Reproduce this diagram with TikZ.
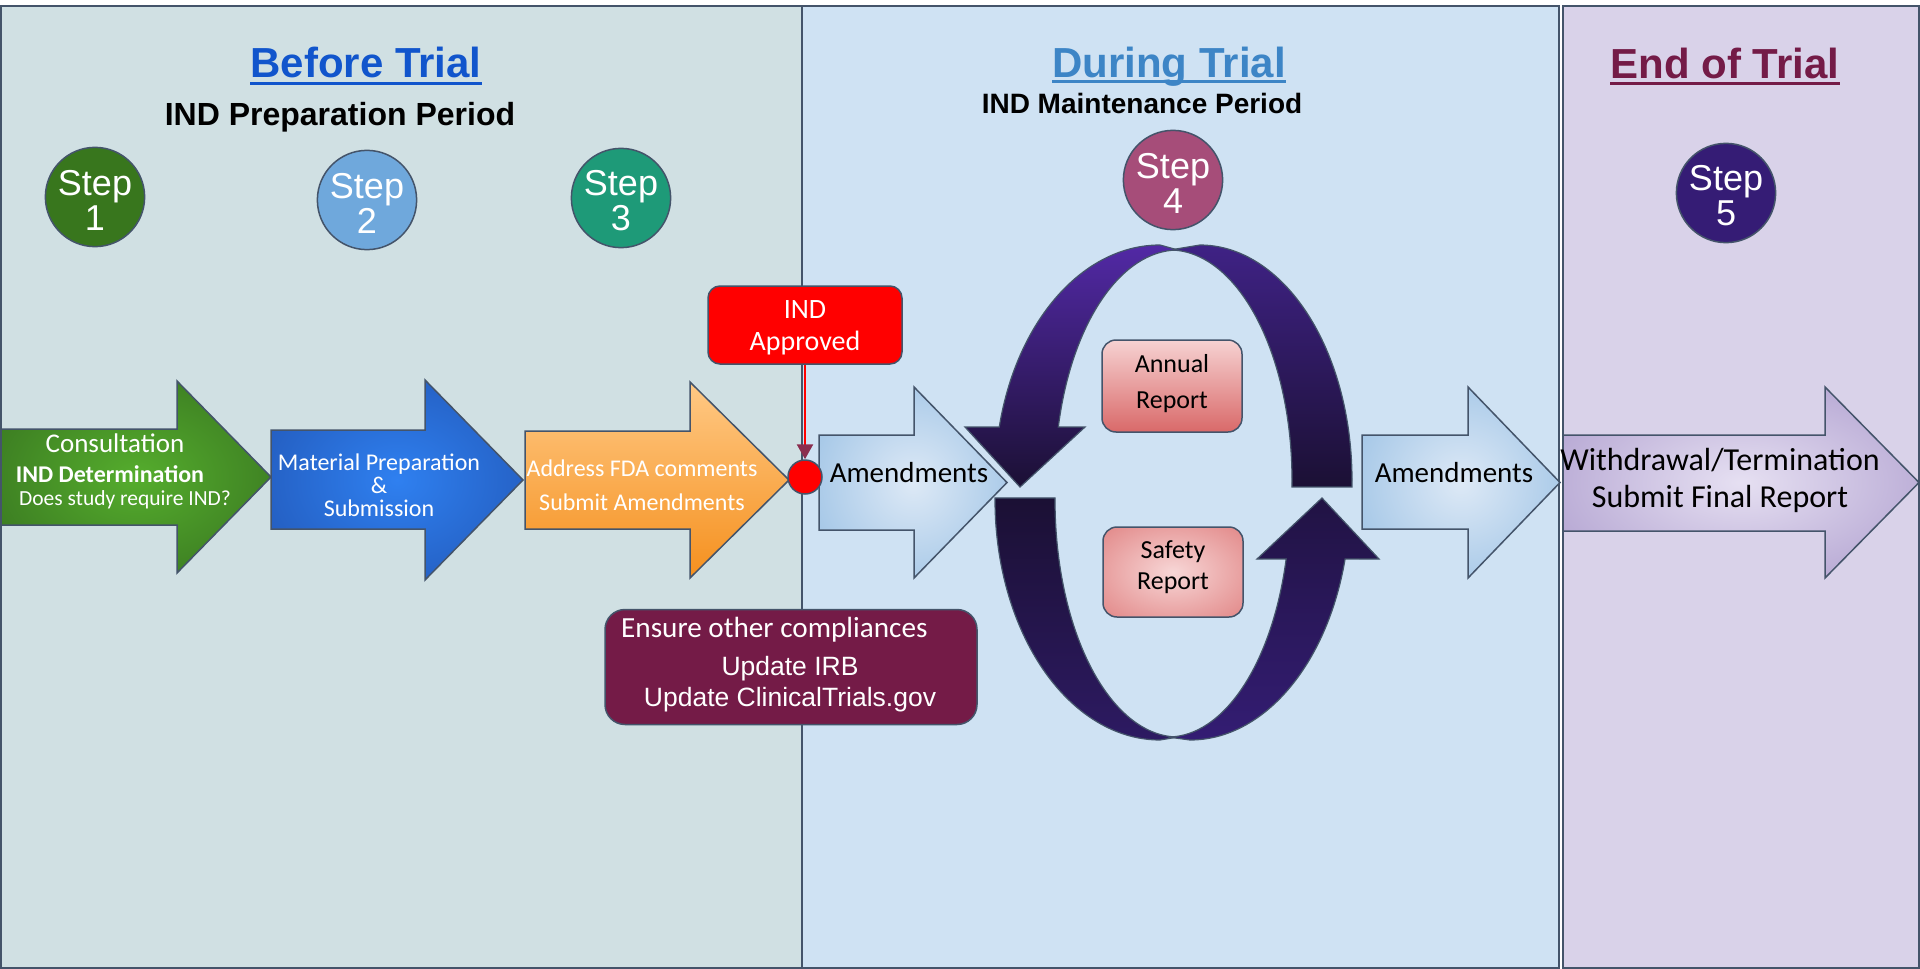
\documentclass[tikz,border=0pt]{standalone}
\usepackage{fontspec}
\setmainfont{Carlito}
\newfontfamily\arialfont{Liberation Sans}
\usetikzlibrary{shapes,arrows.meta,positioning,calc}

% colours
\definecolor{edge}{HTML}{44546A}
\definecolor{beforebg}{HTML}{D0E0E3}
\definecolor{duringbg}{HTML}{CFE2F3}
\definecolor{endbg}{HTML}{D9D2E9}
\definecolor{beforeblue}{HTML}{1155CC}
\definecolor{duringblue}{HTML}{3D85C6}
\definecolor{endmaroon}{HTML}{741B47}
\definecolor{stepone}{HTML}{38761D}
\definecolor{steptwo}{HTML}{6FA8DC}
\definecolor{stepthree}{HTML}{1E9A78}
\definecolor{stepfour}{HTML}{A64D79}
\definecolor{stepfive}{HTML}{351C75}
\definecolor{tipred}{HTML}{8A2D4F}
\definecolor{greenin}{HTML}{55AD2D}
\definecolor{greenout}{HTML}{2A5A1A}
\definecolor{bluein}{HTML}{2F80F0}
\definecolor{blueout}{HTML}{1C459E}
\definecolor{orangetop}{HTML}{FFC985}
\definecolor{orangebot}{HTML}{F5901E}
\definecolor{skyin}{HTML}{DDE9F6}
\definecolor{skyout}{HTML}{7BAEDC}
\definecolor{lilacin}{HTML}{E6E0F2}
\definecolor{lilacout}{HTML}{9580BE}
\definecolor{annualtop}{HTML}{F6D2D2}
\definecolor{annualbot}{HTML}{D96969}
\definecolor{safetyin}{HTML}{F7D6D6}
\definecolor{safetyout}{HTML}{D96868}
\definecolor{violet}{HTML}{5229A5}
\definecolor{indigo}{HTML}{3F2285}
\definecolor{midnight}{HTML}{1B1034}
\definecolor{plum}{HTML}{2D1A62}
\definecolor{grape}{HTML}{43239C}

% glow shadings for the block arrows
\pgfdeclareradialshading{greenglow}{\pgfpoint{0bp}{0bp}}{color(0bp)=(greenin); color(50bp)=(greenout)}
\pgfdeclareradialshading{blueglow}{\pgfpoint{0bp}{0bp}}{color(0bp)=(bluein); color(50bp)=(blueout)}
\pgfdeclareradialshading{skyglow}{\pgfpoint{0bp}{0bp}}{color(0bp)=(skyin); color(50bp)=(skyout)}
\pgfdeclareradialshading{lilacglow}{\pgfpoint{0bp}{0bp}}{color(0bp)=(lilacin); color(50bp)=(lilacout)}
\pgfdeclareradialshading{safetyglow}{\pgfpoint{0bp}{0bp}}{color(0bp)=(safetyin); color(50bp)=(safetyout)}

\tikzset{
  panel/.style={draw=edge, line width=1.5},
  heading/.style={anchor=base, inner sep=0, font=\arialfont\bfseries\fontsize{42}{48}\selectfont},
  subheading/.style={anchor=base, inner sep=0, font=\arialfont\bfseries\fontsize{32}{36}\selectfont},
  stepcircle/.style={circle, draw=edge, line width=1.5, minimum size=99, inner sep=0,
    text=white, align=center, font=\arialfont\fontsize{36}{35}\selectfont},
  arrowbody/.style={draw=edge, line width=1.5},
  arrowtext/.style={inner sep=0, text=white, align=center},
  reportbox/.style={rectangle, rounded corners=14, draw=edge, line width=1.5,
    minimum width=140, align=center, inner sep=0},
  cyclepart/.style={draw=edge, line width=1.2}
}

% step label, with a strut so the two lines sit a little lower
\newcommand{\stepno}[1]{\rule{0pt}{31pt}Step\\#1}

% block arrow: style, left x, head x, tip x, body top, body bottom, head top, head bottom
\newcommand{\blockarrow}[8]{%
  \path[arrowbody, #1] (#2,#5) -- (#3,#5) -- (#3,#7) -- (#4,{(#7+#8)/2})
    -- (#3,#8) -- (#3,#6) -- (#2,#6) -- cycle;}

\begin{document}
\begin{tikzpicture}[x=1pt,y=-1pt]
  \useasboundingbox (0,0) rectangle (1920,969);
  \fill[white] (0,0) rectangle (1920,969);

  % panels
  \filldraw[panel, fill=beforebg] (1,6) rectangle (802,968);
  \filldraw[panel, fill=duringbg] (802,6) rectangle (1559,968);
  \filldraw[panel, fill=endbg] (1563,6) rectangle (1919,968);

  % headings
  \node[heading, text=beforeblue] (before) at (366,77) {Before Trial};
  \node[heading, text=duringblue] (during) at (1169,77) {During Trial};
  \node[heading, text=endmaroon] (ending) at (1725,78) {End of Trial};
  \draw[line width=3, beforeblue] ($(before.base west)+(0,6)$) -- ($(before.base east)+(0,6)$);
  \draw[line width=3, duringblue] ($(during.base west)+(0,4)$) -- ($(during.base east)+(0,4)$);
  \draw[line width=3, endmaroon] ($(ending.base west)+(0,5)$) -- ($(ending.base east)+(0,5)$);
  \node[subheading] (prepperiod) at (340,125) {IND Preparation Period};
  \node[subheading, font=\arialfont\bfseries\fontsize{28}{32}\selectfont] (maintperiod) at (1142,113) {IND Maintenance Period};

  % steps
  \node[stepcircle, fill=stepone] (step1) at (95,197) {\stepno{1}};
  \node[stepcircle, fill=steptwo] (step2) at (367,200) {\stepno{2}};
  \node[stepcircle, fill=stepthree] (step3) at (621,198) {\stepno{3}};
  \node[stepcircle, fill=stepfour] (step4) at (1173,180) {\stepno{4}};
  \node[stepcircle, fill=stepfive] (step5) at (1726,193) {\stepno{5}};

  % block arrows
  \blockarrow{shade, shading=greenglow}{1}{177}{271}{429}{525}{381}{573}
  \blockarrow{shade, shading=blueglow}{271}{425}{523}{430}{529}{380}{580}
  \blockarrow{top color=orangetop, bottom color=orangebot}{525}{690}{789}{431}{529}{382}{578}
  \blockarrow{shade, shading=skyglow}{819}{914}{1007}{435}{530}{387}{578}
  \blockarrow{shade, shading=skyglow}{1362}{1468}{1560}{435}{529}{387}{578}
  \blockarrow{shade, shading=lilacglow}{1563}{1825}{1919}{435}{531}{387}{578}

  % reporting cycle, ellipse centres of the four halves
  \coordinate (ulo) at (1160,480);
  \coordinate (uli) at (1178,480);
  \coordinate (uro) at (1200,480);
  \coordinate (uri) at (1170,480);
  \coordinate (llo) at (1160,500);
  \coordinate (lli) at (1178,500);
  \coordinate (lro) at (1190,500);
  \coordinate (lri) at (1168,500);

  % upper arrow
  \path[cyclepart, top color=indigo, bottom color=midnight]
    ($(uro)+(-90:152 and 235)$) arc[start angle=-90, end angle=1.7, x radius=152, y radius=235]
    -- ($(uri)+(1.74:122 and 230)$) arc[start angle=1.74, end angle=-90, x radius=122, y radius=230] -- cycle;
  \path[cyclepart, top color=violet, bottom color=midnight]
    ($(ulo)+(-90:165 and 235)$) arc[start angle=-90, end angle=-166.97, x radius=165, y radius=235]
    -- (965,427) -- (1020,487) -- (1085,427)
    -- ($(uli)+(-166.68:123 and 230)$) arc[start angle=-166.68, end angle=-90, x radius=123, y radius=230] -- cycle;

  % lower arrow
  \path[cyclepart, top color=midnight, bottom color=plum]
    ($(llo)+(180.5:165 and 240)$) arc[start angle=180.5, end angle=90, x radius=165, y radius=240]
    -- ($(lli)+(90:123 and 237)$) arc[start angle=90, end angle=180.5, x radius=123, y radius=237] -- cycle;
  \path[cyclepart, top color=midnight!85!grape, middle color=grape, bottom color=plum!70!grape]
    ($(lro)+(90:160 and 240)$) arc[start angle=90, end angle=14.23, x radius=160, y radius=240]
    -- (1379,559) -- (1322,498) -- (1257,559)
    -- ($(lri)+(14.41:122 and 237)$) arc[start angle=14.41, end angle=90, x radius=122, y radius=237] -- cycle;

  % arrow texts
  \node[arrowtext, font=\fontsize{27}{30}\selectfont] (consult) at (115,443) {Consultation};
  \node[arrowtext, font=\bfseries\fontsize{24}{25}\selectfont] (inddet) at (110,474) {IND Determination};
  \node[arrowtext, font=\fontsize{21.5}{24}\selectfont] (doesreq) at (125,500) {Does study require IND?};
  \node[arrowtext, font=\fontsize{24}{23}\selectfont] (matprep) at (379,485) {Material Preparation\\\&\\Submission};
  \node[arrowtext, font=\fontsize{24}{34}\selectfont] (fdacomm) at (642,485) {Address FDA comments\\Submit Amendments};
  \node[arrowtext, text=black, font=\fontsize{29}{29}\selectfont] (amendA) at (909,473) {Amendments};
  \node[arrowtext, text=black, font=\fontsize{29}{29}\selectfont] (amendB) at (1454,473) {Amendments};
  \node[arrowtext, text=black, font=\fontsize{32}{37}\selectfont] (closeout) at (1720,480) {Withdrawal/Termination\\Submit Final Report};

  % reports inside the cycle
  \node[reportbox, minimum height=92, top color=annualtop, bottom color=annualbot,
    font=\fontsize{26}{36}\selectfont] (annual) at (1172,386) {Annual\\Report\rule[-10pt]{0pt}{10pt}};
  \node[reportbox, minimum height=90, shade, shading=safetyglow,
    font=\fontsize{26}{31}\selectfont] (safety) at (1173,572) {Safety\\Report\rule[-14pt]{0pt}{14pt}};

  % approval and compliance
  \node[rectangle, rounded corners=12, fill=red, draw=edge, line width=1.5, minimum width=194,
    minimum height=78, arrowtext, font=\fontsize{28}{32}\selectfont] (approved) at (805,325) {\rule{0pt}{24pt}IND\\Approved};
  \node[circle, fill=red, draw=edge, line width=1.5, minimum size=34, inner sep=0] (inddot) at (805,477) {};
  \draw[red, line width=2.5, -{Triangle[width=16pt, length=15pt, color=tipred]}] (approved) -- (inddot);

  \node[rectangle, rounded corners=20, fill=endmaroon, draw=edge, line width=1.5,
    minimum width=372, minimum height=115] (comply) at (791,667) {};
  \node[arrowtext, anchor=west, font=\fontsize{29.2}{30}\selectfont] (ensure) at (621,630) {Ensure other compliances};
  \node[arrowtext, font=\arialfont\fontsize{26.5}{31}\selectfont] (updates) at (790,684) {Update IRB\\Update ClinicalTrials.gov};
\end{tikzpicture}
\end{document}
